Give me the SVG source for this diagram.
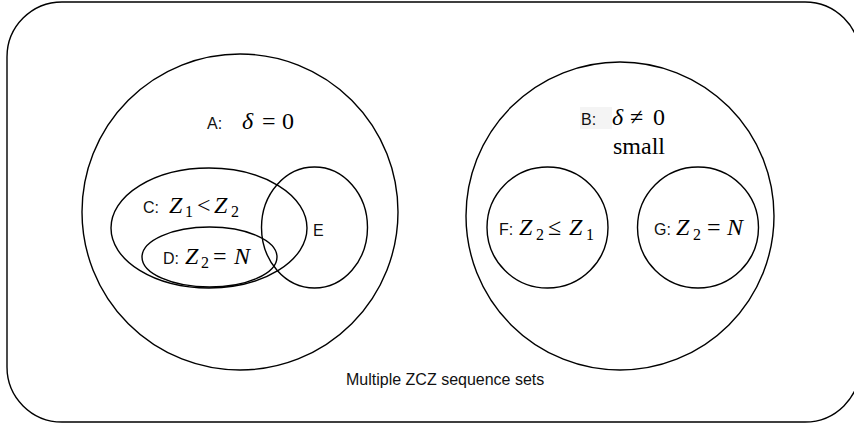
<svg xmlns="http://www.w3.org/2000/svg" width="854" height="424" viewBox="0 0 854 424">
<style>
.shape{fill:none;stroke:#000;stroke-width:1.4}
.lbl{font-family:"Liberation Sans",Arial,sans-serif;font-size:16px;fill:#111}
.m{font-family:"Liberation Serif","Times New Roman",serif;font-size:24px;fill:#000}
.mi{font-family:"Liberation Serif","Times New Roman",serif;font-size:24px;font-style:italic;fill:#000}
.sub{font-family:"Liberation Serif","Times New Roman",serif;font-size:16px;fill:#000}
</style>
<rect width="854" height="424" fill="#fff"/>
<g id="universe">
<rect class="shape" x="7" y="2" width="853" height="420" rx="55" ry="55"/>
<text class="lbl" x="346" y="385">Multiple ZCZ sequence sets</text>
</g>
<g id="A">
<circle class="shape" cx="240" cy="212" r="158"/>
<text class="lbl" x="207" y="129">A:</text>
<text class="mi" x="242" y="129">δ</text>
<text class="m" x="262" y="129">=</text>
<text class="m" x="282" y="129">0</text>
</g>
<g id="B">
<circle class="shape" cx="620" cy="216" r="154"/>
<rect x="580" y="107" width="32" height="22" fill="#f4f4f4"/>
<text class="lbl" x="581" y="125">B:</text>
<text class="mi" x="612" y="125">δ</text>
<text class="m" x="630" y="125">≠</text>
<text class="m" x="653" y="125">0</text>
<text class="m" x="613" y="154">small</text>
</g>
<g id="C">
<ellipse class="shape" cx="209" cy="228" rx="98" ry="60"/>
<text class="lbl" x="143" y="213">C:</text>
<text class="mi" x="169" y="213">Z</text>
<text class="sub" x="185" y="217">1</text>
<text class="m" x="197" y="213">&lt;</text>
<text class="mi" x="214" y="213">Z</text>
<text class="sub" x="231" y="217">2</text>
</g>
<g id="D">
<ellipse class="shape" cx="209.5" cy="257" rx="67.5" ry="30"/>
<text class="lbl" x="163" y="264">D:</text>
<text class="mi" x="185" y="264">Z</text>
<text class="sub" x="201" y="268">2</text>
<text class="m" x="213" y="264">=</text>
<text class="mi" x="234" y="264">N</text>
</g>
<g id="E">
<ellipse class="shape" cx="314.5" cy="227.5" rx="53" ry="60.5"/>
<text class="lbl" x="313" y="236">E</text>
</g>
<g id="F">
<circle class="shape" cx="547.5" cy="227.5" r="60.5"/>
<text class="lbl" x="499" y="235">F:</text>
<text class="mi" x="519" y="235">Z</text>
<text class="sub" x="536" y="240">2</text>
<text class="m" x="548" y="235">≤</text>
<text class="mi" x="569" y="235">Z</text>
<text class="sub" x="586" y="240">1</text>
</g>
<g id="G">
<circle class="shape" cx="698" cy="227.5" r="60.5"/>
<text class="lbl" x="654" y="235">G:</text>
<text class="mi" x="676" y="235">Z</text>
<text class="sub" x="693" y="240">2</text>
<text class="m" x="707" y="235">=</text>
<text class="mi" x="727" y="235">N</text>
</g>
<g id="connectors"></g>
</svg>
